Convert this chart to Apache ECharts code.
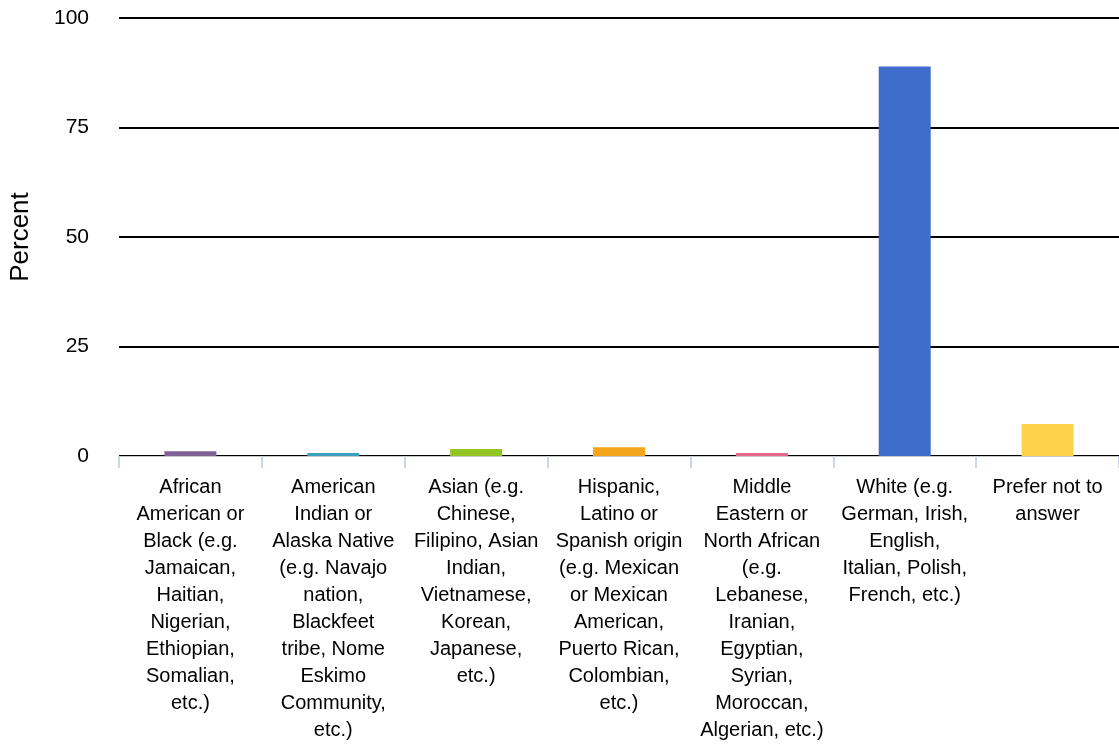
<!DOCTYPE html>
<html>
<head>
<meta charset="utf-8">
<script src="https://cdn.jsdelivr.net/npm/echarts@6/dist/echarts.min.js"></script>
<style>
  html, body { margin: 0; padding: 0; background: #fff; overflow: hidden; }
  #chart { width: 1119px; height: 744px; }
</style>
</head>
<body>
<div id="chart"></div>
<script>
const categories = [
    'African\nAmerican or\nBlack (e.g.\nJamaican,\nHaitian,\nNigerian,\nEthiopian,\nSomalian,\netc.)',
    'American\nIndian or\nAlaska Native\n(e.g. Navajo\nnation,\nBlackfeet\ntribe, Nome\nEskimo\nCommunity,\netc.)',
    'Asian (e.g.\nChinese,\nFilipino, Asian\nIndian,\nVietnamese,\nKorean,\nJapanese,\netc.)',
    'Hispanic,\nLatino or\nSpanish origin\n(e.g. Mexican\nor Mexican\nAmerican,\nPuerto Rican,\nColombian,\netc.)',
    'Middle\nEastern or\nNorth African\n(e.g.\nLebanese,\nIranian,\nEgyptian,\nSyrian,\nMoroccan,\nAlgerian, etc.)',
    'White (e.g.\nGerman, Irish,\nEnglish,\nItalian, Polish,\nFrench, etc.)',
    'Prefer not to\nanswer'
];
const percents = [1.1, 0.7, 1.6, 2.0, 0.7, 88.9, 7.3];
const barColors = ['#7f6195', '#3d9fc0', '#93c524', '#f5a51b', '#e8668a', '#3e6dcc', '#fcd34a'];

echarts.init(document.getElementById('chart')).setOption({
    animation: false,
    textStyle: { fontFamily: 'Liberation Sans, Arial, sans-serif' },
    grid: { left: 118, right: 0, top: 18, bottom: 286, containLabel: false },
    xAxis: {
        type: 'category',
        data: categories,
        offset: 1,
        axisLine: { lineStyle: { color: '#c8c8c8', width: 1 } },
        axisTick: { show: true, length: 12, lineStyle: { color: '#cbd6ec', width: 2 } },
        axisLabel: {
            interval: 0,
            color: '#000',
            fontSize: 20,
            lineHeight: 27,
            margin: 17,
            align: 'center'
        }
    },
    yAxis: {
        type: 'value',
        min: 0,
        max: 100,
        interval: 25,
        name: 'Percent',
        nameLocation: 'middle',
        nameGap: 85,
        nameTextStyle: { fontSize: 26, color: '#000' },
        axisLine: { show: false },
        axisTick: { show: false },
        axisLabel: { color: '#000', fontSize: 21, margin: 30 },
        splitLine: { lineStyle: { color: '#000', width: 1.8 } }
    },
    series: [
        {
            type: 'bar',
            barWidth: 52,
            data: percents.map((v, i) => ({ value: v, itemStyle: { color: barColors[i] } }))
        }
    ]
});
</script>
</body>
</html>
